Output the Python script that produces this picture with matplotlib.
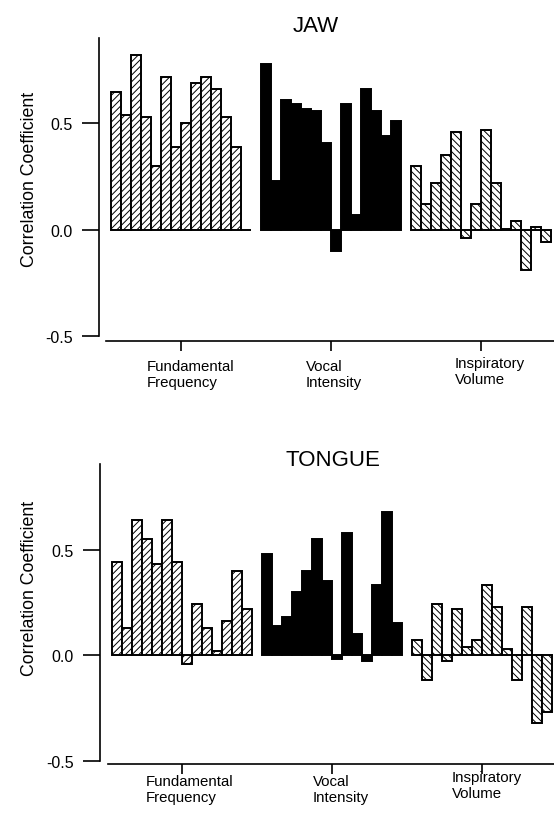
import matplotlib
matplotlib.use('Agg')
import matplotlib.pyplot as plt

plt.rcParams['font.family'] = ['Liberation Sans', 'DejaVu Sans']
plt.rcParams['axes.unicode_minus'] = False
plt.rcParams['hatch.linewidth'] = 0.7

# data
categories = ['Fundamental\nFrequency', 'Vocal\nIntensity', 'Inspiratory\nVolume']
yticks = [-0.5, 0.0, 0.5]
ytick_labels = ['-0.5', '0.0', '0.5']

jaw_f0 = [0.65, 0.54, 0.82, 0.53, 0.30, 0.72, 0.39, 0.50, 0.69, 0.72, 0.66, 0.53, 0.39, 0.0]
jaw_int = [0.78, 0.23, 0.61, 0.59, 0.57, 0.56, 0.41, -0.10, 0.59, 0.07, 0.66, 0.56, 0.44, 0.51]
jaw_vol = [0.30, 0.12, 0.22, 0.35, 0.46, -0.04, 0.12, 0.47, 0.22, 0.005, 0.04, -0.19, 0.01, -0.06]

tongue_f0 = [0.44, 0.13, 0.64, 0.55, 0.43, 0.64, 0.44, -0.04, 0.24, 0.13, 0.02, 0.16, 0.40, 0.22]
tongue_int = [0.48, 0.14, 0.18, 0.30, 0.40, 0.55, 0.35, -0.02, 0.58, 0.10, -0.03, 0.33, 0.68, 0.15]
tongue_vol = [0.07, -0.12, 0.24, -0.03, 0.22, 0.04, 0.07, 0.33, 0.23, 0.03, -0.12, 0.23, -0.32, -0.27]

group_start = [0, 15, 30]
group_tick = [7, 22, 37]

W, H = 554, 820
fig = plt.figure(figsize=(W / 100, H / 100), dpi=100)

# bar styles per group: hatched, solid black, back-hatched
styles = [dict(facecolor='white', hatch='/' * 5),
          dict(facecolor='black', hatch=None),
          dict(facecolor='white', hatch='\\' * 5)]

panels = [
    dict(title='JAW', groups=[jaw_f0, jaw_int, jaw_vol],
         box=(99, 39.3, 554, 341.7), ylim=(-0.5235, 0.901), xlim=(-1.17, 44.33),
         title_xy=(316, 31.7), ylab_y=0.538,
         offs=[(-34, -18), (-25, -18), (-26, -15)]),
    dict(title='TONGUE', groups=[tongue_f0, tongue_int, tongue_vol],
         box=(100, 465, 554, 765), ylim=(-0.5156, 0.905), xlim=(-1.2, 44.2),
         title_xy=(333, 466), ylab_y=0.589,
         offs=[(-36, -10), (-19, -10), (-30, -6)]),
]

for p in panels:
    l, t, r, b = p['box']
    ax = fig.add_axes([l / W, 1 - b / H, (r - l) / W, (b - t) / H])
    for start, vals, st in zip(group_start, p['groups'], styles):
        x = [start + i for i in range(len(vals))]
        ax.bar(x, vals, width=1, align='edge', edgecolor='black',
               linewidth=1.4, **st)

    ax.set_xlim(*p['xlim'])
    ax.set_ylim(*p['ylim'])
    ax.spines['top'].set_visible(False)
    ax.spines['right'].set_visible(False)
    ax.spines['left'].set_bounds(-0.5, p['ylim'][1])
    ax.spines['bottom'].set_bounds(-0.45, p['xlim'][1])
    for s in ('left', 'bottom'):
        ax.spines[s].set_linewidth(1.2)

    ax.set_yticks(yticks)
    ax.set_yticklabels(ytick_labels)
    ax.tick_params(axis='y', length=12, width=1.2, pad=7, labelsize=11.5)
    ax.set_xticks(group_tick)
    ax.set_xticklabels([])
    ax.tick_params(axis='x', length=7, width=1.2)

    for tx, name, (dx, dy) in zip(group_tick, categories, p['offs']):
        ax.annotate(name, xy=(tx, 0), xycoords=('data', 'axes fraction'),
                    xytext=(dx, dy), textcoords='offset pixels',
                    ha='left', va='top', fontsize=10.8, annotation_clip=False)

    ax.set_ylabel('Correlation Coefficient', fontsize=12.8)
    ax.yaxis.set_label_coords((38 - l) / (r - l), p['ylab_y'])

    fig.text(p['title_xy'][0] / W, 1 - p['title_xy'][1] / H, p['title'],
             ha='center', va='baseline', fontsize=16)

fig.savefig('out.png', dpi=100)
